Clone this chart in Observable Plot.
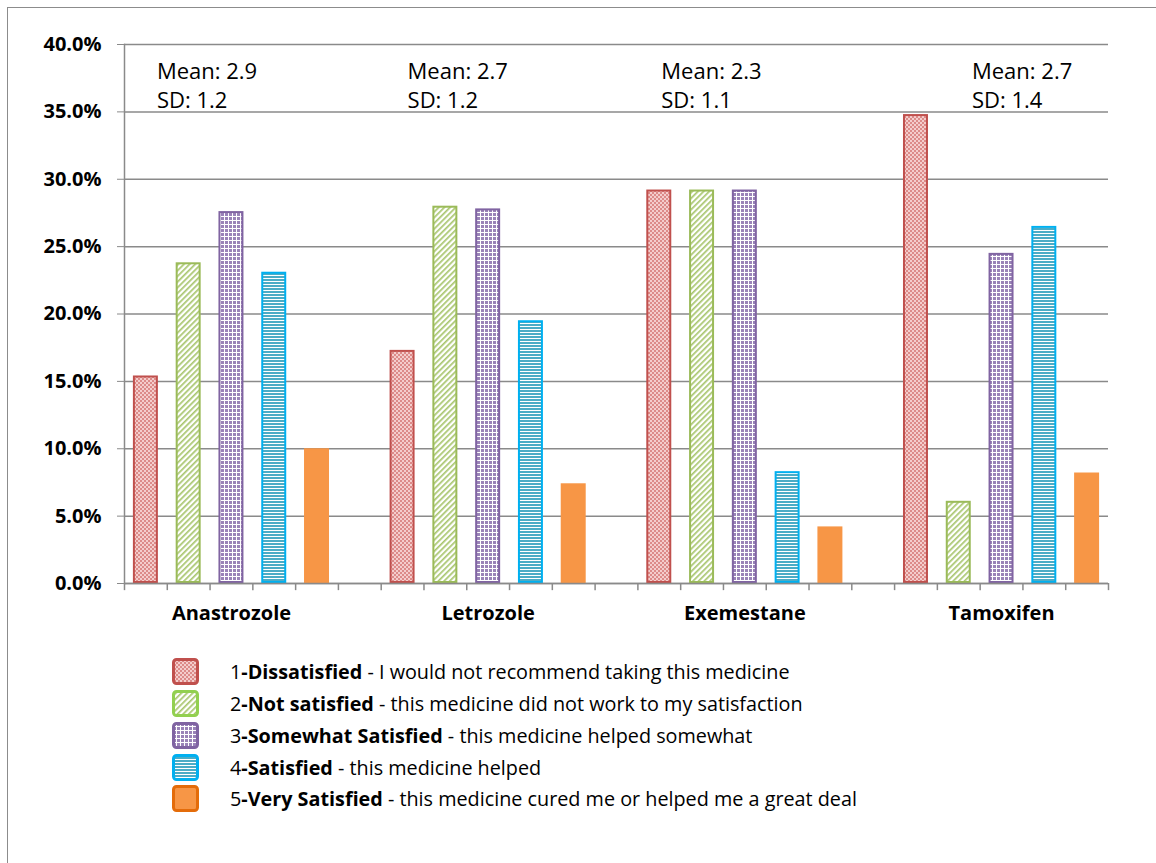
<!DOCTYPE html>
<html><head><meta charset="utf-8">
<script src="https://cdn.jsdelivr.net/npm/d3@7"></script>
<script src="https://cdn.jsdelivr.net/npm/@observablehq/plot@0.6"></script>
<style>
body{margin:0;background:#fff;font-family:"Open Sans",sans-serif;}
#wrap{position:relative;width:1156px;height:863px;overflow:hidden;background:#fff;}
#border{position:absolute;left:7px;top:7px;width:1400px;height:1100px;border:1.5px solid #8c8c8c;}
#chart{position:absolute;left:0;top:0;}
#legend{position:absolute;left:172px;top:656px;}
.row{display:flex;align-items:center;height:31.75px;font-size:19.8px;color:#000;white-space:nowrap;}
.row svg{margin-right:31px;flex:none;}
#chart svg{font-family:"Open Sans",sans-serif;}
</style></head><body>
<svg width="0" height="0" style="position:absolute"><defs>
<pattern id="pRed" width="4" height="4" patternUnits="userSpaceOnUse">
 <rect width="4" height="4" fill="#f4cdcc"/>
 <rect width="2" height="2" fill="#dc8b89"/>
 <rect x="2" y="2" width="2" height="2" fill="#dc8b89"/>
</pattern>
<pattern id="pGreen" width="4" height="4" patternUnits="userSpaceOnUse" patternTransform="rotate(45)">
 <rect width="4" height="4" fill="#ffffff"/>
 <rect width="1.7" height="4" fill="#a9c66f"/>
</pattern>
<pattern id="pPurple" width="4" height="4" patternUnits="userSpaceOnUse">
 <rect width="4" height="4" fill="#9a83b8"/>
 <rect width="4" height="1" fill="#ffffff"/>
 <rect width="1" height="4" fill="#ffffff"/>
</pattern>
<pattern id="pBlue" width="4" height="3" patternUnits="userSpaceOnUse">
 <rect width="4" height="3" fill="#ffffff"/>
 <rect width="4" height="2" fill="#4bacc6"/>
</pattern>
</defs></svg>
<div id="wrap"><div id="border"></div><div id="chart"></div><div id="legend"></div></div>
<script>
// ---- data ----
const drugs = ["Anastrozole", "Letrozole", "Exemestane", "Tamoxifen"];
const ratingCodes = ["1", "2", "3", "4", "5"];
const ratingNames = ["Dissatisfied", "Not satisfied", "Somewhat Satisfied", "Satisfied", "Very Satisfied"];
const ratingNotes = [
  "I would not recommend taking this medicine",
  "this medicine did not work to my satisfaction",
  "this medicine helped somewhat",
  "this medicine helped",
  "this medicine cured me or helped me a great deal"
];
const dissatisfied      = [15.4, 17.3, 29.2, 34.8];
const notSatisfied      = [23.8, 28.0, 29.2, 6.1];
const somewhatSatisfied = [27.6, 27.8, 29.2, 24.5];
const satisfied         = [23.1, 19.5, 8.3, 26.5];
const verySatisfied     = [10.0, 7.4, 4.2, 8.2];
const means = ["2.9", "2.7", "2.3", "2.7"];
const sds   = ["1.2", "1.2", "1.1", "1.4"];
const yTicks = [0, 5, 10, 15, 20, 25, 30, 35, 40];

// ---- styling ----
const fills   = ["url(#pRed)", "url(#pGreen)", "url(#pPurple)", "url(#pBlue)", "#F79646"];
const strokes = ["#C0504D", "#9BBB59", "#8064A2", "#00B0F0", "#F79646"];
const legendStrokes = ["#C0504D", "#92D050", "#8064A2", "#00B0F0", "#E46C0A"];
const annDx = [11, 5, 2, 56];
const gridColor = "#8a8a8a";

const series = [dissatisfied, notSatisfied, somewhatSatisfied, satisfied, verySatisfied];

// slots: 5 bars per drug, with an empty slot between drug groups
const slots = [];
drugs.forEach((d, i) => {
  ratingCodes.forEach(c => slots.push(`${d}|${c}`));
  if (i < drugs.length - 1) slots.push(`gap${i}`);
});
const rows = [];
drugs.forEach((d, i) => series.forEach((vals, k) => rows.push({slot: `${d}|${ratingCodes[k]}`, k, value: vals[i]})));

const W = 1156, H = 640, mL = 124, mR = 48, mT = 44, mB = 57;
const step = (W - mL - mR) / slots.length;
const pad = 0.416;
const xRange = [mL - (pad / 2) * step, W - mR + (pad / 2) * step];

const annText = {textAnchor: "start", lineAnchor: "middle", fontSize: 22, fill: "#000"};

const marks = [
  Plot.gridY(yTicks, {stroke: gridColor, strokeOpacity: 1, strokeWidth: 1.5}),
  ...series.map((_, k) => Plot.barY(rows.filter(r => r.k === k), {
    x: "slot", y: "value", fill: fills[k], stroke: strokes[k], strokeWidth: 2, inset: 1
  })),
  Plot.ruleY([0], {stroke: gridColor, strokeWidth: 1.5}),
  Plot.ruleX(slots, {x: d => d, y1: 0, y2: -0.53, dx: -step / 2, stroke: gridColor, strokeWidth: 1.5}),
  Plot.ruleX([slots[slots.length - 1]], {x: d => d, y1: 0, y2: -0.53, dx: step / 2, stroke: gridColor, strokeWidth: 1.5}),
  Plot.frame({anchor: "left", stroke: gridColor, strokeWidth: 1.5}),
  Plot.axisY(yTicks, {
    tickFormat: d => d.toFixed(1) + "%", tickSize: 7, tickPadding: 16,
    stroke: gridColor, fill: "#000", fontSize: 20, fontWeight: "bold", label: null
  }),
  Plot.axisX(drugs.map(d => `${d}|3`), {
    tickSize: 0, tickPadding: 22, tickFormat: s => s.split("|")[0],
    fill: "#000", fontSize: 20, fontWeight: "bold", label: null
  }),
  ...drugs.map((d, i) => Plot.text([d], {
    x: dd => `${dd}|1`, y: () => 40, text: () => `Mean: ${means[i]}`,
    dx: annDx[i], dy: 27.5, ...annText
  })),
  ...drugs.map((d, i) => Plot.text([d], {
    x: dd => `${dd}|1`, y: () => 40, text: () => `SD: ${sds[i]}`,
    dx: annDx[i], dy: 56.5, ...annText
  }))
];

const chart = Plot.plot({
  width: W, height: H,
  marginLeft: mL, marginRight: mR, marginTop: mT, marginBottom: mB,
  style: {background: "transparent", color: "#000", fontFamily: "'Open Sans', sans-serif"},
  x: {type: "band", domain: slots, range: xRange, padding: pad, round: false, axis: null},
  y: {domain: [0, 40], axis: null},
  marks
});
document.getElementById("chart").appendChild(chart);

// legend
const legend = document.getElementById("legend");
ratingCodes.forEach((c, k) => {
  const row = document.createElement("div");
  row.className = "row";
  row.innerHTML =
    `<svg width="27" height="27"><rect x="1.5" y="1.5" width="24" height="24" rx="3" ry="3" fill="${fills[k]}" stroke="${legendStrokes[k]}" stroke-width="3"/></svg>` +
    `<span>${c}<b>-${ratingNames[k]}</b> - ${ratingNotes[k]}</span>`;
  legend.appendChild(row);
});
</script>
</body></html>
